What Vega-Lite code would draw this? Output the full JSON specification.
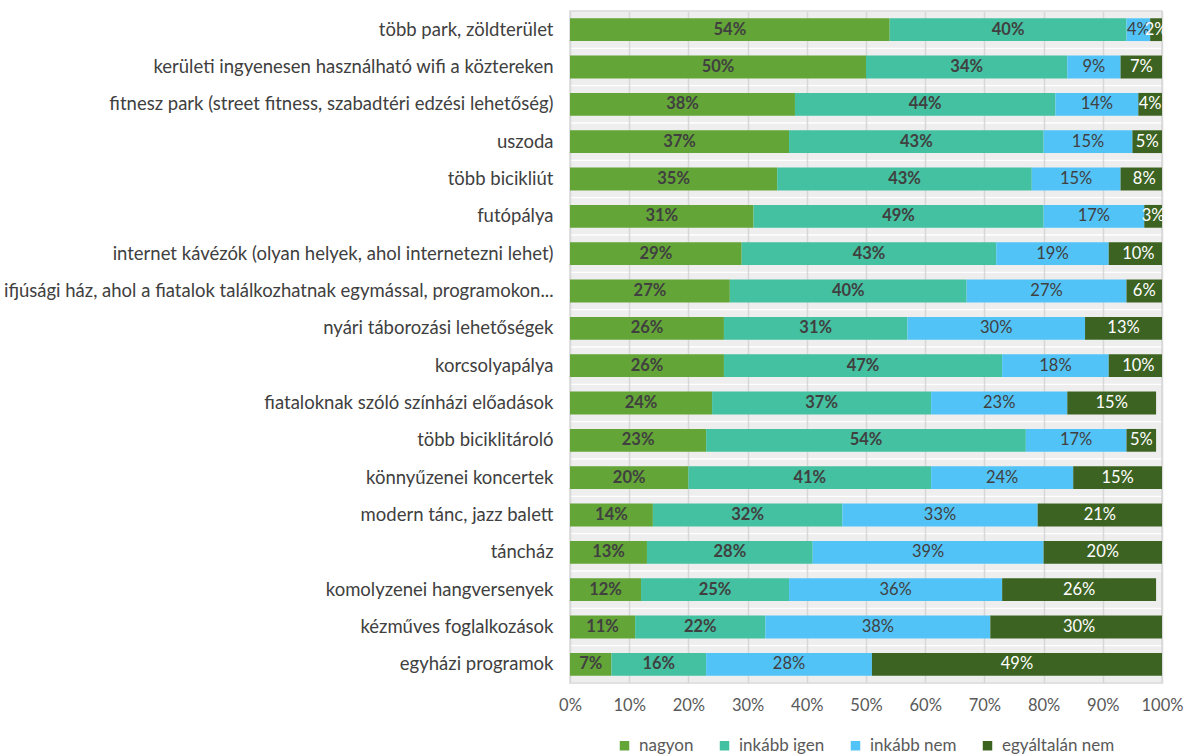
{
  "$schema": "https://vega.github.io/schema/vega-lite/v6.json",
  "autosize": "none",
  "width": 592,
  "height": 672,
  "padding": {"left": 570, "top": 11, "right": 28, "bottom": 73},
  "background": "white",
  "config": {
    "font": "Lato",
    "view": {"stroke": "#d9d9d9", "strokeWidth": 1.5}
  },
  "data": {
    "values": [
      {"k": "több park, zöldterület", "nagyon": 54, "inkább igen": 40, "inkább nem": 4, "egyáltalán nem": 2},
      {"k": "kerületi ingyenesen használható wifi a köztereken", "nagyon": 50, "inkább igen": 34, "inkább nem": 9, "egyáltalán nem": 7},
      {"k": "fitnesz park (street fitness, szabadtéri edzési lehetőség)", "nagyon": 38, "inkább igen": 44, "inkább nem": 14, "egyáltalán nem": 4},
      {"k": "uszoda", "nagyon": 37, "inkább igen": 43, "inkább nem": 15, "egyáltalán nem": 5},
      {"k": "több bicikliút", "nagyon": 35, "inkább igen": 43, "inkább nem": 15, "egyáltalán nem": 8},
      {"k": "futópálya", "nagyon": 31, "inkább igen": 49, "inkább nem": 17, "egyáltalán nem": 3},
      {"k": "internet kávézók (olyan helyek, ahol internetezni lehet)", "nagyon": 29, "inkább igen": 43, "inkább nem": 19, "egyáltalán nem": 10},
      {"k": "ifjúsági ház, ahol a fiatalok találkozhatnak egymással, programokon...", "nagyon": 27, "inkább igen": 40, "inkább nem": 27, "egyáltalán nem": 6},
      {"k": "nyári táborozási lehetőségek\u00a0", "nagyon": 26, "inkább igen": 31, "inkább nem": 30, "egyáltalán nem": 13},
      {"k": "korcsolyapálya\u00a0", "nagyon": 26, "inkább igen": 47, "inkább nem": 18, "egyáltalán nem": 10},
      {"k": "fiataloknak szóló színházi előadások", "nagyon": 24, "inkább igen": 37, "inkább nem": 23, "egyáltalán nem": 15},
      {"k": "több biciklitároló", "nagyon": 23, "inkább igen": 54, "inkább nem": 17, "egyáltalán nem": 5},
      {"k": "könnyűzenei koncertek", "nagyon": 20, "inkább igen": 41, "inkább nem": 24, "egyáltalán nem": 15},
      {"k": "modern tánc, jazz balett", "nagyon": 14, "inkább igen": 32, "inkább nem": 33, "egyáltalán nem": 21},
      {"k": "táncház", "nagyon": 13, "inkább igen": 28, "inkább nem": 39, "egyáltalán nem": 20},
      {"k": "komolyzenei hangversenyek", "nagyon": 12, "inkább igen": 25, "inkább nem": 36, "egyáltalán nem": 26},
      {"k": "kézműves foglalkozások", "nagyon": 11, "inkább igen": 22, "inkább nem": 38, "egyáltalán nem": 30},
      {"k": "egyházi programok", "nagyon": 7, "inkább igen": 16, "inkább nem": 28, "egyáltalán nem": 49}
    ]
  },
  "transform": [
    {"fold": ["nagyon", "inkább igen", "inkább nem", "egyáltalán nem"], "as": ["s", "v"]},
    {"calculate": "indexof(['nagyon','inkább igen','inkább nem','egyáltalán nem'], datum.s)", "as": "o"},
    {"stack": "v", "groupby": ["k"], "sort": [{"field": "o", "order": "ascending"}], "as": ["v0", "v1"]},
    {"calculate": "(datum.v0 + datum.v1) / 2", "as": "mid"},
    {"calculate": "datum.v + '%'", "as": "lbl"}
  ],
  "encoding": {
    "y": {
      "field": "k",
      "type": "nominal",
      "sort": null,
      "scale": {"paddingInner": 0, "paddingOuter": 0},
      "axis": {
        "title": null,
        "ticks": false,
        "domain": false,
        "labelFontSize": 18.5,
        "labelColor": "#404040",
        "labelLimit": 700,
        "labelPadding": 17
      }
    }
  },
  "layer": [
    {
      "transform": [{"filter": "datum.o == 0"}],
      "mark": {"type": "bar", "height": {"band": 0.965}, "color": "#d4d4d4", "opacity": 0.4},
      "encoding": {
        "x": {
          "datum": 0,
          "type": "quantitative",
          "scale": {"domain": [0, 100], "nice": false},
          "axis": {
            "title": null,
            "values": [0, 10, 20, 30, 40, 50, 60, 70, 80, 90, 100],
            "labelExpr": "datum.value + '%'",
            "labelFontSize": 16.5,
            "labelColor": "#595959",
            "labelPadding": 14,
            "labelFlush": false,
            "labelOverlap": false,
            "ticks": false,
            "domain": false,
            "grid": true,
            "gridColor": "#d9d9d9",
            "gridWidth": 1.5
          }
        },
        "x2": {"datum": 100}
      }
    },
    {
      "mark": {"type": "bar", "height": {"band": 0.61}, "clip": true},
      "encoding": {
        "x": {"field": "v0", "type": "quantitative"},
        "x2": {"field": "v1"},
        "color": {
          "field": "s",
          "type": "nominal",
          "scale": {
            "domain": ["nagyon", "inkább igen", "inkább nem", "egyáltalán nem"],
            "range": ["#63a537", "#44c1a1", "#52c3f7", "#3c6322"]
          },
          "legend": {
            "title": null,
            "orient": "none",
            "direction": "horizontal",
            "legendX": 46,
            "legendY": 726,
            "symbolType": "square",
            "symbolSize": 90,
            "symbolStrokeWidth": 0,
            "labelFontSize": 17,
            "labelColor": "#595959",
            "columnPadding": 22,
            "labelOffset": 6
          }
        }
      }
    },
    {
      "transform": [{"filter": "datum.o <= 1"}],
      "mark": {"type": "text", "fontWeight": "bold", "fontSize": 16.5, "color": "#404040", "baseline": "middle"},
      "encoding": {
        "x": {"field": "mid", "type": "quantitative"},
        "text": {"field": "lbl"}
      }
    },
    {
      "transform": [{"filter": "datum.o >= 2"}],
      "mark": {"type": "text", "fontSize": 16.5, "baseline": "middle"},
      "encoding": {
        "x": {"field": "mid", "type": "quantitative"},
        "text": {"field": "lbl"},
        "color": {
          "condition": {"test": "datum.o == 3", "value": "#ffffff"},
          "value": "#404040"
        }
      }
    }
  ]
}
